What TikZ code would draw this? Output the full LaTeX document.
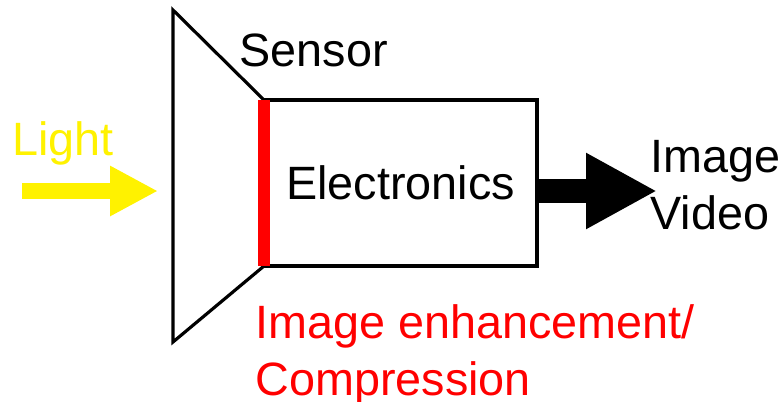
\documentclass[tikz,border=0pt]{standalone}
\usepackage{fontspec}
\setmainfont{Liberation Sans}
\usetikzlibrary{arrows.meta}

\begin{document}
\begin{tikzpicture}[
    txt/.style={inner sep=0pt, font=\fontsize{13.3}{16.2}\selectfont},
    line width=0.9pt]
    \useasboundingbox (0,0) rectangle (7.82,-4.01);

    % Electronics box
    \node[draw, txt, outer sep=0pt, minimum width=2.73cm, minimum height=1.66cm] (elec) at (4.005,-1.83) {Electronics};

    % Lens
    \draw (elec.north west) -- (1.73,-0.10) -- (1.73,-3.42) -- (elec.south west);

    % Sensor
    \draw[red, line width=0.12cm] (elec.north west) -- (elec.south west);
    \node[txt, anchor=base west] (sensor) at (2.38,-0.66) {Sensor};

    % Light
    \node[txt, yellow, anchor=base west] (light) at (0.11,-1.55) {Light};
    \coordinate (lightin) at (0.22,-1.91);
    \coordinate (lighttip) at (1.58,-1.91);
    \draw[yellow, line width=0.16cm, -{Triangle[length=0.48cm, width=0.47cm]}] (lightin) -- (lighttip);

    % Output
    \node[txt, anchor=north west, align=left] (output) at (6.49,-1.39) {Image\\Video};
    \coordinate (outtip) at (6.57,-1.91);
    \draw[line width=0.24cm, -{Triangle[length=0.71cm, width=0.71cm]}] (elec.east |- outtip) -- (outtip);

    % Processing
    \node[txt, red, anchor=north west, align=left] (proc) at (2.54,-3.03) {Image enhancement/\\Compression};
\end{tikzpicture}
\end{document}
